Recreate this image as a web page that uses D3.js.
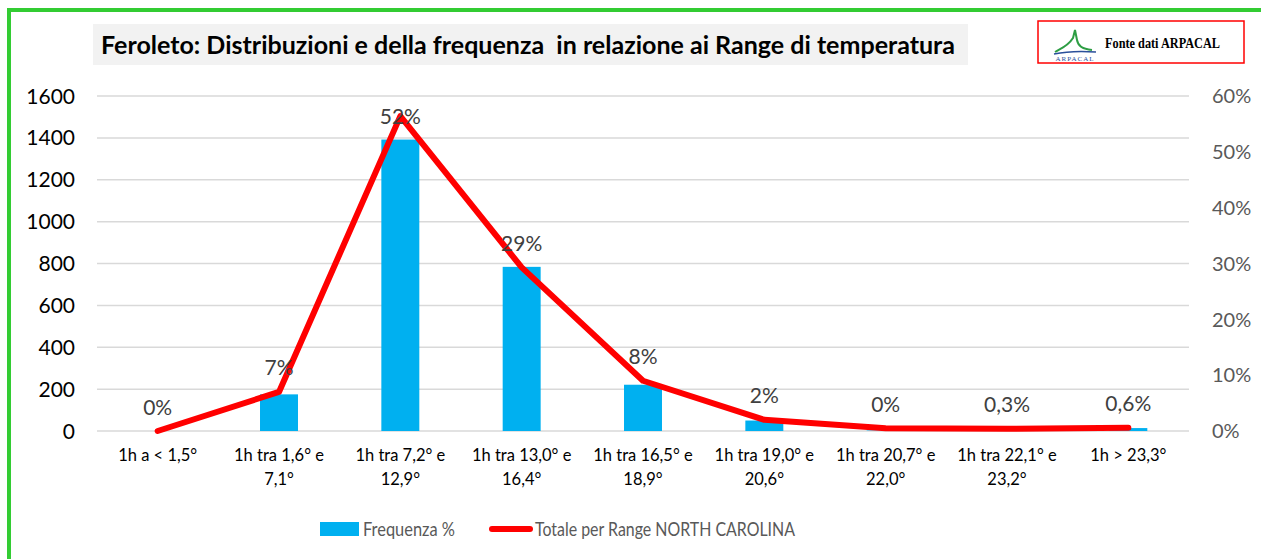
<!DOCTYPE html>
<html lang="it">
<head>
<meta charset="UTF-8">
<title>Feroleto - frequenza temperature</title>
<script src="https://d3js.org/d3.v7.min.js"></script>
<style>
  body { margin: 0; padding: 0; background: #fff; overflow: hidden; }
  svg { display: block; }
  svg text { font-family: Lato, "Open Sans", sans-serif; }
  svg text.serif { font-family: "Liberation Serif", "DejaVu Serif", serif; }
</style>
</head>
<body>
<svg id="chart" width="1261" height="559"></svg>
<script>
// categorie (range di temperatura), due righe per etichetta
const categories = [
  ["1h a < 1,5°"],
  ["1h tra 1,6° e", "7,1°"],
  ["1h tra 7,2° e", "12,9°"],
  ["1h tra 13,0° e", "16,4°"],
  ["1h tra 16,5° e", "18,9°"],
  ["1h tra 19,0° e", "20,6°"],
  ["1h tra 20,7° e", "22,0°"],
  ["1h tra 22,1° e", "23,2°"],
  ["1h > 23,3°"]
];
// barre: Frequenza (asse sinistro)
const freqValues = [0, 175, 1392, 784, 221, 50, 2, 8, 14];
// linea: Totale per Range NORTH CAROLINA (asse destro, %)
const lineValues = [0, 7.0, 56.4, 29.3, 9.0, 2.0, 0.5, 0.4, 0.6];
const lineLabels = ["0%", "7%", "52%", "29%", "8%", "2%", "0%", "0,3%", "0,6%"];
const leftTicks = [0, 200, 400, 600, 800, 1000, 1200, 1400, 1600];
const rightTicks = [0, 10, 20, 30, 40, 50, 60];

const svg = d3.select("#chart");

// bordo verde (solo lato sinistro e superiore visibili)
svg.append("path")
  .attr("d", "M9,559 V10 H1261")
  .attr("fill", "none")
  .attr("stroke", "#33cc33")
  .attr("stroke-width", 4);

const x = d3.scaleBand()
  .domain(d3.range(categories.length))
  .range([97, 1189])
  .paddingInner(0.687)
  .paddingOuter(0.3435);

const yL = d3.scaleLinear().domain([0, 1600]).range([431, 96]);
const yR = d3.scaleLinear().domain([0, 60]).range([431, 96]);

// griglia
svg.append("g")
  .selectAll("line")
  .data(leftTicks)
  .join("line")
  .attr("x1", 97).attr("x2", 1189)
  .attr("y1", d => yL(d)).attr("y2", d => yL(d))
  .attr("stroke", "#d9d9d9")
  .attr("stroke-width", 1.5);

// asse sinistro
svg.append("g")
  .selectAll("text")
  .data(leftTicks)
  .join("text")
  .attr("x", 75)
  .attr("y", d => yL(d))
  .attr("dy", "0.36em")
  .attr("text-anchor", "end")
  .attr("font-size", 21)
  .attr("fill", "#000")
  .text(d => d);

// asse destro
svg.append("g")
  .selectAll("text")
  .data(rightTicks)
  .join("text")
  .attr("x", 1212)
  .attr("y", d => yR(d))
  .attr("dy", "0.36em")
  .attr("font-size", 20)
  .attr("fill", "#595959")
  .text(d => d + "%");

// barre
svg.append("g")
  .selectAll("rect")
  .data(freqValues)
  .join("rect")
  .attr("x", (d, i) => x(i))
  .attr("width", x.bandwidth())
  .attr("y", d => yL(d))
  .attr("height", d => yL(0) - yL(d))
  .attr("fill", "#00b0f0");

// linea
const cx = i => x(i) + x.bandwidth() / 2;
svg.append("path")
  .datum(lineValues)
  .attr("d", d3.line().x((d, i) => cx(i)).y(d => yR(d)))
  .attr("fill", "none")
  .attr("stroke", "#ff0000")
  .attr("stroke-width", 6)
  .attr("stroke-linejoin", "round")
  .attr("stroke-linecap", "round");

// etichette dati
svg.append("g")
  .selectAll("text")
  .data(lineLabels)
  .join("text")
  .attr("x", (d, i) => cx(i))
  .attr("y", (d, i) => Math.max(yR(lineValues[i]) - 24, 116))
  .attr("dy", "0.36em")
  .attr("text-anchor", "middle")
  .attr("font-size", 21)
  .attr("fill", "#404040")
  .text(d => d);

// etichette categorie
const cat = svg.append("g")
  .selectAll("text")
  .data(categories)
  .join("text")
  .attr("text-anchor", "middle")
  .attr("font-size", 16.5)
  .attr("fill", "#000");
cat.selectAll("tspan")
  .data((d, i) => d.map(s => ({ s, i })))
  .join("tspan")
  .attr("x", d => cx(d.i))
  .attr("y", (d, j) => 461 + j * 24)
  .text(d => d.s);

// titolo
svg.append("rect")
  .attr("x", 93).attr("y", 24)
  .attr("width", 875).attr("height", 41)
  .attr("fill", "#f2f2f2");
svg.append("text")
  .attr("x", 101).attr("y", 54)
  .attr("font-size", 25)
  .attr("font-weight", "bold")
  .attr("fill", "#000")
  .attr("textLength", 854)
  .attr("lengthAdjust", "spacingAndGlyphs")
  .style("white-space", "pre")
  .text("Feroleto: Distribuzioni e della frequenza  in relazione ai Range di temperatura");

// riquadro fonte ARPACAL
const logo = svg.append("g");
logo.append("rect")
  .attr("x", 1038).attr("y", 21)
  .attr("width", 206).attr("height", 42)
  .attr("fill", "#fff")
  .attr("stroke", "#ff0000")
  .attr("stroke-width", 1.5);
logo.append("path")
  .attr("d", "M1055,52 C1062,48 1068,46 1073,38 L1075,30 L1077,40 C1078,46 1082,49 1092,50")
  .attr("fill", "none")
  .attr("stroke", "#2e9e44")
  .attr("stroke-width", 2);
logo.append("path")
  .attr("d", "M1054,54 C1068,51 1082,51 1096,52")
  .attr("fill", "none")
  .attr("stroke", "#2a4f9a")
  .attr("stroke-width", 1.5);
logo.append("text")
  .attr("class", "serif")
  .attr("x", 1075).attr("y", 61)
  .attr("text-anchor", "middle")
  .attr("font-size", 7)
  .attr("fill", "#2a4f9a")
  .attr("letter-spacing", 1)
  .text("ARPACAL");
logo.append("text")
  .attr("class", "serif")
  .attr("x", 1105).attr("y", 48)
  .attr("font-size", 14)
  .attr("font-weight", "bold")
  .attr("fill", "#000")
  .attr("textLength", 115)
  .attr("lengthAdjust", "spacingAndGlyphs")
  .text("Fonte dati ARPACAL");

// legenda
const leg = svg.append("g");
leg.append("rect")
  .attr("x", 320).attr("y", 522)
  .attr("width", 39).attr("height", 14)
  .attr("fill", "#00b0f0");
leg.append("text")
  .attr("x", 363).attr("y", 529)
  .attr("dy", "0.36em")
  .attr("font-size", 20)
  .attr("fill", "#595959")
  .attr("textLength", 92)
  .attr("lengthAdjust", "spacingAndGlyphs")
  .text("Frequenza %");
leg.append("line")
  .attr("x1", 492).attr("x2", 530)
  .attr("y1", 529).attr("y2", 529)
  .attr("stroke", "#ff0000")
  .attr("stroke-width", 6)
  .attr("stroke-linecap", "round");
leg.append("text")
  .attr("x", 535).attr("y", 529)
  .attr("dy", "0.36em")
  .attr("font-size", 20)
  .attr("fill", "#595959")
  .attr("textLength", 260)
  .attr("lengthAdjust", "spacingAndGlyphs")
  .text("Totale per Range NORTH CAROLINA");
</script>
</body>
</html>
